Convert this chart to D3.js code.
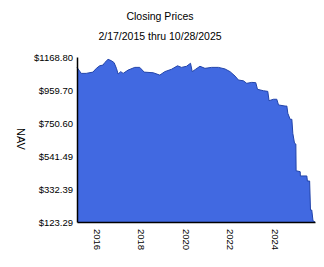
<!DOCTYPE html>
<html>
<head>
<meta charset="utf-8">
<script src="https://cdn.jsdelivr.net/npm/d3@7"></script>
<style>
  body { margin: 0; background: #fff; }
  text { font-family: "Liberation Sans", Arial, sans-serif; }
</style>
</head>
<body>
<div id="chart"></div>
<script>
// closing prices
var dates = ["2015-02-17","2015-04-27","2015-07-18","2015-11-05","2016-01-01","2016-02-24",
  "2016-04-20","2016-05-16","2016-07-11","2016-09-04","2016-10-18","2016-11-25","2016-12-23",
  "2017-02-04","2017-03-15","2017-06-05","2017-09-22","2017-12-13","2018-02-24","2018-07-22",
  "2018-11-07","2019-01-28","2019-05-18","2019-08-25","2019-10-29","2020-01-20","2020-03-25",
  "2020-04-22","2020-06-17","2020-08-27","2020-11-17","2021-03-07","2021-06-26","2021-10-12",
  "2022-01-03","2022-03-26","2022-05-20","2022-08-10","2022-10-03","2022-12-25","2023-03-01",
  "2023-03-29","2023-07-05","2023-09-14","2023-10-05","2023-12-17","2024-02-09","2024-03-08",
  "2024-06-24","2024-07-23","2024-08-08","2024-09-15","2024-10-13","2024-10-29","2024-11-26",
  "2024-12-18","2024-12-22","2025-02-27","2025-03-02","2025-06-16","2025-06-25","2025-08-01",
  "2025-08-15","2025-09-05","2025-09-25","2025-10-28"];
var prices = [1103,1065,1065,1073,1097,1113,
  1118,1133,1154,1145,1133,1097,1061,
  1076,1065,1086,1103,1103,1073,1069,
  1054,1076,1091,1113,1103,1110,1129,
  1076,1091,1110,1097,1103,1103,1093,
  1076,1048,1023,1018,1002,1008,1006,
  964,955,951,892,901,901,865,
  858,858,812,774,774,685,622,
  617,448,442,415,415,383,383,
  199,199,131,123.29];
var yTicks = [123.29, 332.39, 541.49, 750.60, 959.70, 1168.80];
var xTicks = ["2016-01-01","2018-01-01","2020-01-01","2022-01-01","2024-01-01"];

var width = 324, height = 267;
var margin = {top: 57, right: 9, bottom: 45, left: 77};
var parse = d3.timeParse("%Y-%m-%d");

var data = dates.map(function (d, i) { return {date: parse(d), value: prices[i]}; });

var svg = d3.select("#chart").append("svg")
  .attr("width", width)
  .attr("height", height);

var x = d3.scaleTime()
  .domain([parse("2015-02-17"), parse("2025-10-28")])
  .range([margin.left, width - margin.right]);

var y = d3.scaleLinear()
  .domain([123.29, 1168.80])
  .range([height - margin.bottom, margin.top]);

var area = d3.area()
  .x(function (d) { return x(d.date); })
  .y0(y(123.29))
  .y1(function (d) { return y(d.value); });

var line = d3.line()
  .x(function (d) { return x(d.date); })
  .y(function (d) { return y(d.value); });

svg.append("path")
  .datum(data)
  .attr("d", area)
  .attr("fill", "#4169e1");

svg.append("path")
  .datum(data)
  .attr("d", line)
  .attr("fill", "none")
  .attr("stroke", "#2244aa")
  .attr("stroke-width", 1);

var yAxis = svg.append("g")
  .attr("transform", "translate(" + margin.left + ",0)")
  .call(d3.axisLeft(y).tickValues(yTicks).tickSize(0).tickPadding(4)
    .tickFormat(function (d) { return "$" + d.toFixed(2); }));
yAxis.select(".domain").attr("stroke", "#000").attr("stroke-width", 1.5);
yAxis.selectAll("text").attr("font-size", 9.5).attr("fill", "#000")
  .attr("font-family", "Liberation Sans, Arial, sans-serif");

var xAxis = svg.append("g")
  .attr("transform", "translate(0," + (height - margin.bottom) + ")")
  .call(d3.axisBottom(x).tickValues(xTicks.map(parse)).tickSize(0)
    .tickFormat(d3.timeFormat("%Y")));
xAxis.select(".domain").attr("stroke", "#000").attr("stroke-width", 1.5);
xAxis.selectAll("text")
  .attr("font-size", 9.5).attr("fill", "#000")
  .attr("font-family", "Liberation Sans, Arial, sans-serif")
  .attr("text-anchor", "start")
  .attr("dy", "0.35em")
  .attr("transform", "translate(0,7) rotate(90)")
  .attr("x", 0).attr("y", 0);

svg.append("text")
  .attr("x", 160).attr("y", 20)
  .attr("text-anchor", "middle")
  .attr("font-size", 10.5)
  .text("Closing Prices");

svg.append("text")
  .attr("x", 160).attr("y", 40)
  .attr("text-anchor", "middle")
  .attr("font-size", 10.5)
  .text("2/17/2015 thru 10/28/2025");

svg.append("text")
  .attr("transform", "translate(17,139) rotate(90)")
  .attr("text-anchor", "middle")
  .attr("font-size", 11)
  .text("NAV");
</script>
</body>
</html>
